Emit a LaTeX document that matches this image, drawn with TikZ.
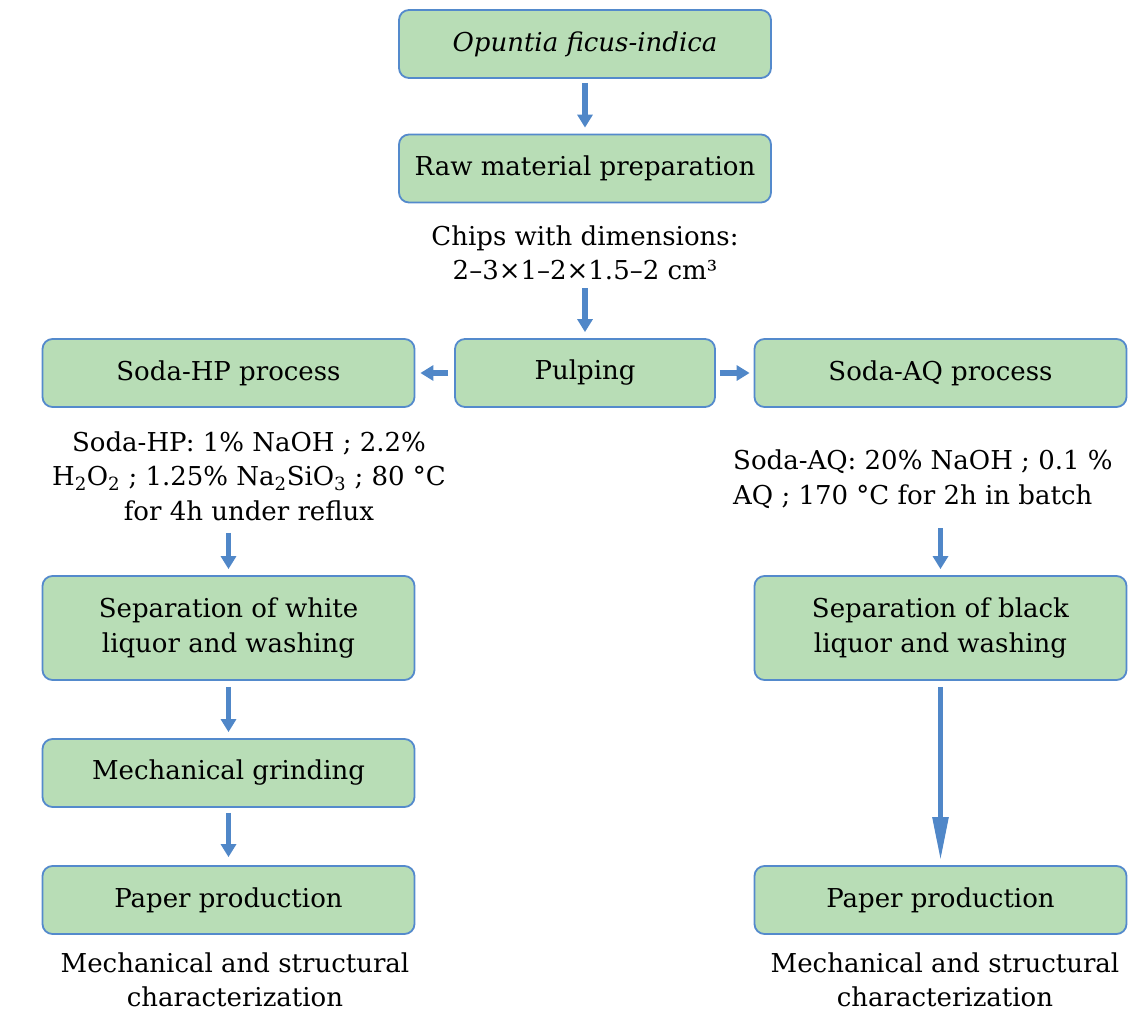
\documentclass[tikz,border=0pt]{standalone}
\usepackage{fontspec}
\setmainfont{DejaVu Serif}
\usetikzlibrary{arrows.meta}
\definecolor{boxgreen}{RGB}{184,221,182}
\definecolor{boxblue}{RGB}{84,138,204}
\definecolor{arrblue}{RGB}{80,135,200}
\tikzset{
  procbox/.style={draw=boxblue, line width=1.8pt, fill=boxgreen, rounded corners=10pt,
    minimum width=372pt, minimum height=68pt, align=center, inner sep=2pt,
    font=\fontsize{26}{34.5}\selectfont},
  note/.style={align=center, inner sep=0pt, font=\fontsize{26}{34.5}\selectfont},
  flow/.style={draw=arrblue, line width=5.5pt, -{Triangle[width=15pt,length=13pt]}},
  longflow/.style={draw=arrblue, line width=5.5pt, -{Triangle[width=15pt,length=44pt]}}
}
\begin{document}
\begin{tikzpicture}[x=1pt,y=-1pt]
\useasboundingbox (0,0) rectangle (1128,1015);
% boxes
\node[procbox] (opu) at (585,44) {\textit{Opuntia ficus-indica}};
\node[procbox] (raw) at (585,168.5) {Raw material preparation};
\node[note] (chips) at (585,253) {Chips with dimensions:\\2–3×1–2×1.5–2 cm³};
\node[procbox, minimum width=260pt] (pulp) at (585,373) {Pulping};
\node[procbox] (hp) at (228.5,373) {Soda-HP process};
\node[procbox] (aq) at (940.5,373) {Soda-AQ process};
\node[note] (hpnote) at (249,476) {Soda-HP: 1\% NaOH ; 2.2\%\\H\textsubscript{2}O\textsubscript{2} ; 1.25\% Na\textsubscript{2}SiO\textsubscript{3} ; 80 °C\\for 4h under reflux};
\node[note, align=left, anchor=west] (aqnote) at (733,479) {Soda-AQ: 20\% NaOH ; 0.1 \%\\AQ ; 170 °C for 2h in batch};
\node[procbox, minimum height=104pt] (sepw) at (228.5,628) {Separation of white\\liquor and washing};
\node[procbox, minimum height=104pt] (sepb) at (940.5,628) {Separation of black\\liquor and washing};
\node[procbox] (grind) at (228.5,773) {Mechanical grinding};
\node[procbox] (papl) at (228.5,900) {Paper production};
\node[procbox] (papr) at (940.5,900) {Paper production};
\node[note] (charl) at (235,980) {Mechanical and structural\\characterization};
\node[note] (charr) at (945,980) {Mechanical and structural\\characterization};
% connectors
\coordinate (c1) at (585,288);
\draw[flow] ([yshift=-4pt]opu.south) -- ([yshift=6pt]raw.north);
\draw[flow] (chips.south |- c1) -- ([yshift=6pt]pulp.north);
\draw[flow] ([xshift=-6pt]pulp.west) -- ([xshift=5pt]hp.east);
\draw[flow] ([xshift=4pt]pulp.east) -- ([xshift=-4pt]aq.west);
\draw[flow] ([yshift=-12pt]hpnote.south -| sepw.north) -- ([yshift=6pt]sepw.north);
\draw[flow] ([yshift=-6pt]sepw.south) -- ([yshift=6pt]grind.north);
\draw[flow] ([yshift=-5pt]grind.south) -- ([yshift=8pt]papl.north);
\draw[flow] ([yshift=-20pt]aqnote.south -| sepb.north) -- ([yshift=6pt]sepb.north);
\draw[longflow] ([yshift=-6pt]sepb.south) -- ([yshift=4pt]papr.north);
\end{tikzpicture}
\end{document}
